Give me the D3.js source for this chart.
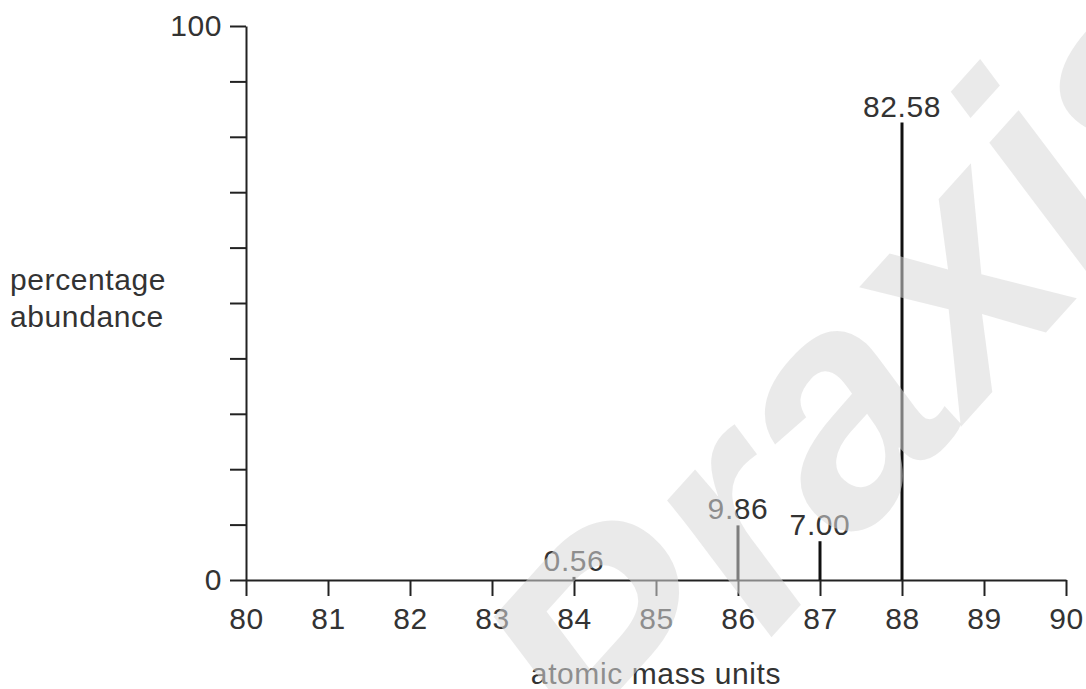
<!DOCTYPE html>
<html>
<head>
<meta charset="utf-8">
<script src="https://cdn.jsdelivr.net/npm/d3@7"></script>
<style>
  body { margin: 0; background: #fff; }
  svg text { font-family: "Liberation Sans", Arial, sans-serif; fill: #333; letter-spacing: 0.6px; }
</style>
</head>
<body>
<div id="chart"></div>
<script>
// isotopes of the element: mass number and % abundance
var masses = [84, 86, 87, 88];
var abundance = [0.56, 9.86, 7.00, 82.58];
var xTicks = [80, 81, 82, 83, 84, 85, 86, 87, 88, 89, 90];
var yTicks = [0, 10, 20, 30, 40, 50, 60, 70, 80, 90, 100];
var yLabelled = [0, 100];

var width = 1086, height = 689;

var svg = d3.select("#chart").append("svg")
  .attr("width", width)
  .attr("height", height);

var x = d3.scaleLinear().domain([80, 90]).range([246, 1066]);
var y = d3.scaleLinear().domain([0, 100]).range([580, 26]);

// y axis
svg.append("g")
  .attr("transform", "translate(" + x(80) + ",0)")
  .call(d3.axisLeft(y)
    .tickValues(yTicks)
    .tickSize(16)
    .tickSizeOuter(0)
    .tickPadding(8)
    .tickFormat(function (d) { return yLabelled.indexOf(d) >= 0 ? d : ""; }));

// x axis
svg.append("g")
  .attr("transform", "translate(0," + y(0) + ")")
  .call(d3.axisBottom(x)
    .tickValues(xTicks)
    .tickSize(16)
    .tickSizeOuter(0)
    .tickPadding(12));

svg.selectAll(".domain, .tick line")
  .attr("stroke", "#222")
  .attr("stroke-width", 2);
svg.selectAll(".tick text")
  .style("font-size", "30px")
  .attr("fill", "#333");

// peaks
svg.selectAll(".peak")
  .data(masses)
  .enter()
  .append("line")
  .attr("class", "peak")
  .attr("x1", function (d) { return x(d); })
  .attr("x2", function (d) { return x(d); })
  .attr("y1", y(0))
  .attr("y2", function (d, i) { return y(abundance[i]); })
  .attr("stroke", "#111")
  .attr("stroke-width", 3);

svg.selectAll(".peakLabel")
  .data(masses)
  .enter()
  .append("text")
  .attr("class", "peakLabel")
  .attr("x", function (d) { return x(d); })
  .attr("y", function (d, i) { return y(abundance[i]) - 6; })
  .attr("text-anchor", "middle")
  .style("font-size", "30px")
  .text(function (d, i) { return abundance[i].toFixed(2); });

// axis titles
svg.append("text")
  .attr("x", 10)
  .attr("y", 290)
  .style("font-size", "30px")
  .text("percentage");
svg.append("text")
  .attr("x", 10)
  .attr("y", 327)
  .style("font-size", "30px")
  .text("abundance");

svg.append("text")
  .attr("x", (x(80) + x(90)) / 2)
  .attr("y", 684)
  .attr("text-anchor", "middle")
  .style("font-size", "30px")
  .text("atomic mass units");

// watermark over the chart
svg.append("text")
  .attr("transform", "translate(625,800) rotate(-48)")
  .style("font-size", "320px")
  .style("font-weight", "bold")
  .style("font-style", "italic")
  .style("letter-spacing", "0px")
  .style("fill", "#d8d8d8")
  .style("fill-opacity", 0.55)
  .text("Praxis");
</script>
</body>
</html>
